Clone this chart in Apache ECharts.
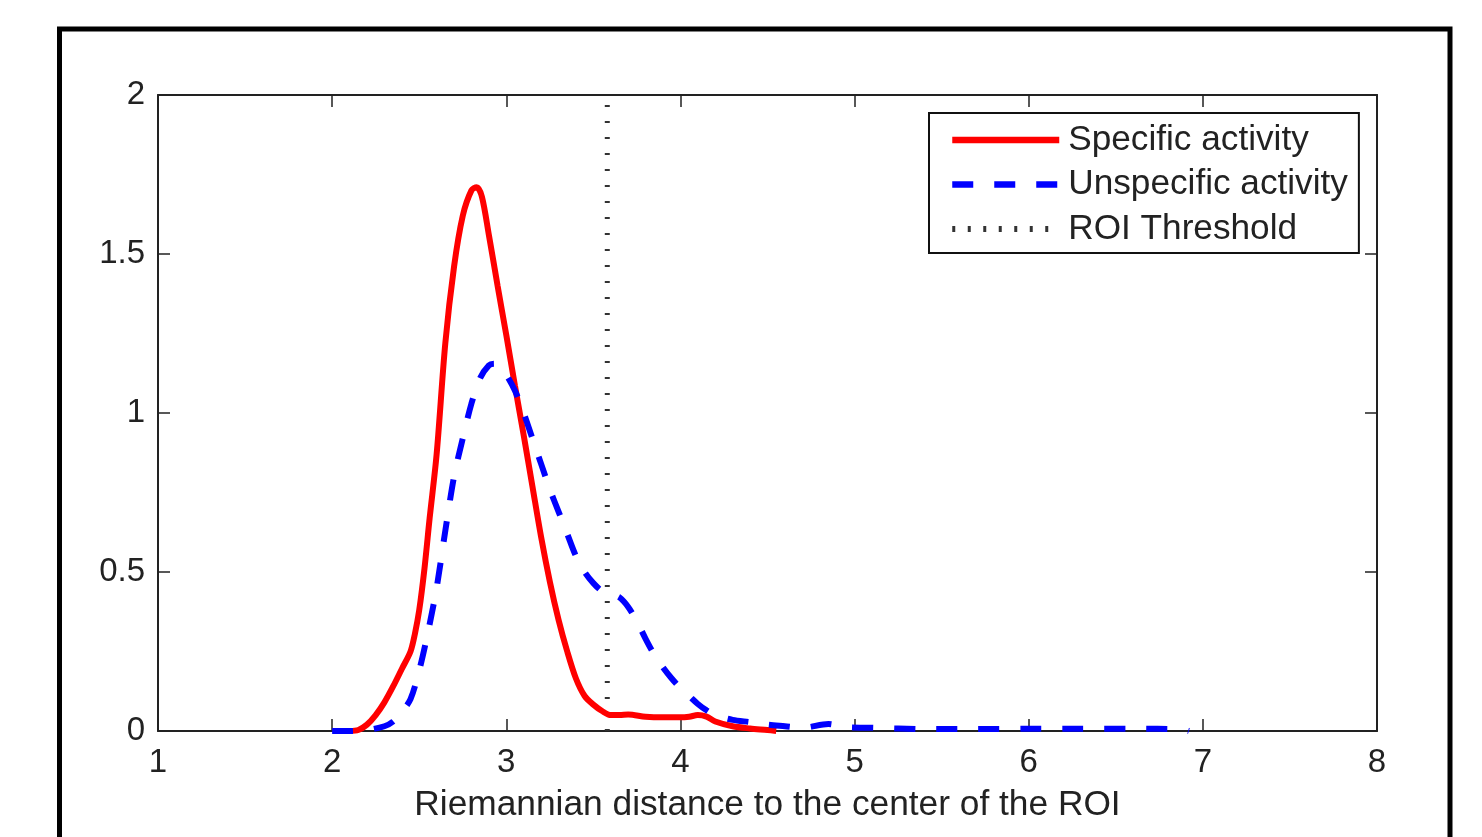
<!DOCTYPE html>
<html>
<head>
<meta charset="utf-8">
<script src="https://cdn.jsdelivr.net/npm/echarts@6/dist/echarts.min.js"></script>
<style>
html,body{margin:0;padding:0;background:#fff;}
#chart{width:1482px;height:837px;}
</style>
</head>
<body>
<div id="chart"></div>
<script>
// Data
const xTicks = [1, 2, 3, 4, 5, 6, 7, 8];
const yTicks = [0, 0.5, 1, 1.5, 2];

const specificX = [2.10, 2.15, 2.20, 2.25, 2.30, 2.35, 2.40, 2.45, 2.475, 2.50, 2.53, 2.56, 2.60, 2.65, 2.70, 2.75, 2.80, 2.83, 2.86, 2.90, 2.95, 3.00, 3.05, 3.10, 3.15, 3.20, 3.25, 3.30, 3.35, 3.40, 3.45, 3.50, 3.55, 3.60, 3.65, 3.70, 3.80, 3.90, 4.00, 4.05, 4.10, 4.15, 4.20, 4.30, 4.40, 4.50, 4.55];
const specificY = [0, 0.003, 0.02, 0.05, 0.09, 0.14, 0.195, 0.25, 0.305, 0.38, 0.51, 0.67, 0.87, 1.22, 1.46, 1.62, 1.70, 1.71, 1.68, 1.56, 1.40, 1.245, 1.085, 0.93, 0.77, 0.61, 0.47, 0.35, 0.25, 0.165, 0.11, 0.083, 0.063, 0.05, 0.05, 0.052, 0.045, 0.043, 0.043, 0.045, 0.05, 0.045, 0.03, 0.015, 0.008, 0.003, 0];

const unspecificX = [2.00, 2.10, 2.20, 2.30, 2.35, 2.40, 2.45, 2.50, 2.55, 2.60, 2.65, 2.70, 2.75, 2.80, 2.85, 2.90, 2.93, 2.97, 3.00, 3.05, 3.10, 3.15, 3.20, 3.25, 3.30, 3.35, 3.40, 3.45, 3.50, 3.55, 3.60, 3.65, 3.70, 3.75, 3.80, 3.85, 3.90, 3.95, 4.00, 4.05, 4.10, 4.15, 4.20, 4.30, 4.40, 4.50, 4.60, 4.70, 4.85, 4.95, 5.10, 5.40, 5.70, 6.00, 6.30, 6.60, 6.88, 6.92];
const unspecificY = [0, 0, 0.003, 0.015, 0.03, 0.06, 0.10, 0.19, 0.31, 0.45, 0.63, 0.80, 0.92, 1.03, 1.11, 1.15, 1.155, 1.14, 1.12, 1.07, 1.00, 0.92, 0.84, 0.76, 0.69, 0.62, 0.55, 0.50, 0.465, 0.44, 0.43, 0.42, 0.39, 0.345, 0.29, 0.24, 0.20, 0.165, 0.135, 0.11, 0.085, 0.065, 0.05, 0.035, 0.028, 0.02, 0.015, 0.01, 0.022, 0.012, 0.01, 0.006, 0.006, 0.007, 0.007, 0.007, 0.005, 0];

const thresholdX = [3.58, 3.58];
const thresholdY = [0, 2];

const seriesNames = ['Specific activity', 'Unspecific activity', 'ROI Threshold'];
const xTitle = 'Riemannian distance to the center of the ROI';

function zip(xs, ys) { return xs.map((x, i) => [x, ys[i]]); }

const FONT = 'Liberation Sans, Arial, sans-serif';
const AX = '#222';

const chart = echarts.init(document.getElementById('chart'), null, {renderer: 'canvas'});

const commonTick = {show: true, inside: true, length: 12, lineStyle: {color: AX, width: 1.5}};

chart.setOption({
  animation: false,
  backgroundColor: '#fff',
  grid: {left: 158, right: 105, top: 95, bottom: 106, containLabel: false},
  graphic: [{
    type: 'rect',
    shape: {x: 59.5, y: 29, width: 1390.5, height: 860},
    style: {fill: 'none', stroke: '#000', lineWidth: 5},
    silent: true, z: 100
  }],
  legend: {
    orient: 'vertical',
    left: 929, top: 113,
    padding: [9, 11, 6, 20],
    itemWidth: 107, itemHeight: 14,
    itemGap: 8.5,
    backgroundColor: '#fff',
    borderColor: '#111', borderWidth: 2,
    itemStyle: {opacity: 0},
    textStyle: {fontFamily: FONT, fontSize: 35.2, color: '#222', lineHeight: 36, padding: [0, 0, 0, 4]},
    data: [
      {name: seriesNames[0], itemStyle: {opacity: 0}, lineStyle: {width: 6.5, color: '#ff0000'}},
      {name: seriesNames[1], itemStyle: {opacity: 0}, lineStyle: {width: 6.5, color: '#0000ff', type: [21, 21]}},
      {name: seriesNames[2], itemStyle: {opacity: 0}, lineStyle: {width: 6, color: '#333', type: [3, 12.5]}}
    ]
  },
  xAxis: [{
    type: 'value', position: 'bottom',
    min: xTicks[0], max: xTicks[xTicks.length - 1], interval: 1,
    axisLine: {show: true, onZero: false, lineStyle: {color: AX, width: 2}},
    axisTick: commonTick,
    axisLabel: {color: '#222', fontFamily: FONT, fontSize: 33, margin: 15},
    splitLine: {show: false},
    name: xTitle, nameLocation: 'middle', nameGap: 57,
    nameTextStyle: {color: '#222', fontFamily: FONT, fontSize: 35.3}
  }, {
    type: 'value', position: 'top',
    min: xTicks[0], max: xTicks[xTicks.length - 1], interval: 1,
    axisLine: {show: true, onZero: false, lineStyle: {color: AX, width: 2}},
    axisTick: commonTick,
    axisLabel: {show: false},
    splitLine: {show: false}
  }],
  yAxis: [{
    type: 'value', position: 'left',
    min: yTicks[0], max: yTicks[yTicks.length - 1], interval: 0.5,
    axisLine: {show: true, onZero: false, lineStyle: {color: AX, width: 2}},
    axisTick: commonTick,
    axisLabel: {color: '#222', fontFamily: FONT, fontSize: 33, margin: 13},
    splitLine: {show: false}
  }, {
    type: 'value', position: 'right',
    min: yTicks[0], max: yTicks[yTicks.length - 1], interval: 0.5,
    axisLine: {show: true, onZero: false, lineStyle: {color: AX, width: 2}},
    axisTick: commonTick,
    axisLabel: {show: false},
    splitLine: {show: false}
  }],
  series: [{
    name: seriesNames[0], type: 'line', xAxisIndex: 0, yAxisIndex: 0,
    data: zip(specificX, specificY),
    showSymbol: false, symbol: 'none', smooth: 0.3,
    lineStyle: {color: '#ff0000', width: 6},
    itemStyle: {color: '#ff0000'},
    z: 3
  }, {
    name: seriesNames[1], type: 'line', xAxisIndex: 0, yAxisIndex: 0,
    data: zip(unspecificX, unspecificY),
    showSymbol: false, symbol: 'none', smooth: 0.3,
    lineStyle: {color: '#0000ff', width: 6, type: [21, 21]},
    itemStyle: {color: '#0000ff'},
    z: 4
  }, {
    name: seriesNames[2], type: 'line', xAxisIndex: 0, yAxisIndex: 0,
    data: zip(thresholdX, thresholdY),
    showSymbol: false, symbol: 'none',
    lineStyle: {color: '#333', width: 5, type: [2, 14]},
    itemStyle: {color: '#333'},
    z: 2
  }]
});
</script>
</body>
</html>
